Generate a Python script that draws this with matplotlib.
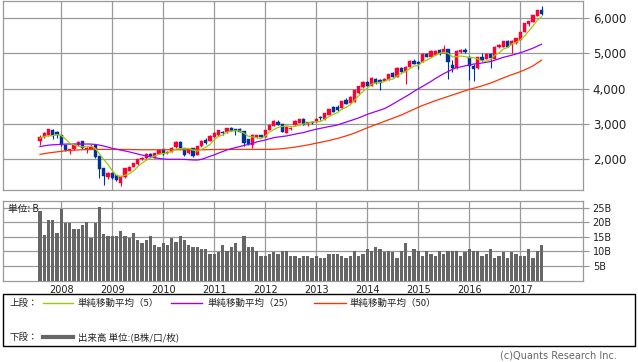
import matplotlib
matplotlib.use("Agg")
import matplotlib.pyplot as plt
from matplotlib.patches import Rectangle
from matplotlib.lines import Line2D
import numpy as np

# ---------------- data (monthly, Aug 2007 - Jun 2017) ----------------
years = ["2008", "2009", "2010", "2011", "2012", "2013", "2014", "2015", "2016", "2017"]
year_start_index = [5, 17, 29, 41, 53, 65, 77, 89, 101, 113]

opens = [2525, 2620, 2685, 2828, 2770, 2686, 2404, 2250, 2280, 2404,
         2525, 2280, 2300, 2404, 2093, 1746, 1510, 1605, 1556, 1322,
         1492, 1678, 1790, 1859, 2000, 2030, 2160, 2040, 2150, 2290,
         2190, 2215, 2340, 2500, 2310, 2170, 2310, 2121, 2375, 2545,
         2530, 2640, 2686, 2770, 2762, 2875, 2860, 2860, 2790, 2560,
         2400, 2640, 2680, 2640, 2830, 2940, 3060, 3000, 2750, 2850,
         2970, 3035, 3150, 3010, 3050, 3065, 3190, 3130, 3250, 3470,
         3480, 3440, 3680, 3600, 3630, 3865, 4035, 4175, 4080, 4260,
         4230, 4220, 4240, 4430, 4330, 4590, 4475, 4620, 4780, 4760,
         4760, 4975, 4900, 4960, 5090, 5000, 5110, 4660, 4570, 5020,
         5100, 4900, 4640, 4570, 4880, 4840, 4980, 4830, 5160, 5185,
         5330, 5230, 5280, 5370, 5600, 5820, 5890, 6050, 6210]
highs = [2686, 2760, 2870, 2850, 2790, 2700, 2420, 2300, 2420, 2520,
         2530, 2340, 2420, 2420, 2100, 1760, 1650, 1620, 1560, 1540,
         1760, 1800, 1900, 2020, 2070, 2180, 2175, 2180, 2280, 2300,
         2240, 2340, 2520, 2510, 2320, 2300, 2320, 2390, 2540, 2600,
         2690, 2770, 2840, 2800, 2890, 2900, 2870, 2880, 2800, 2580,
         2720, 2700, 2700, 2840, 2980, 3100, 3110, 3010, 2930, 2900,
         3100, 3140, 3180, 3060, 3070, 3160, 3230, 3320, 3420, 3500,
         3530, 3650, 3720, 3780, 3970, 4080, 4200, 4210, 4320, 4300,
         4260, 4290, 4420, 4460, 4600, 4620, 4640, 4800, 4820, 4780,
         4990, 5000, 5090, 5100, 5110, 5220, 5130, 4800, 5080, 5120,
         5140, 4920, 4700, 4890, 4990, 4990, 5000, 5200, 5250, 5340,
         5360, 5360, 5430, 5610, 5850, 5920, 6090, 6220, 6330]
lows = [2404, 2600, 2660, 2580, 2600, 2380, 2240, 2150, 2270, 2390,
        2300, 2180, 2290, 2050, 1460, 1270, 1440, 1440, 1400, 1246,
        1480, 1670, 1780, 1850, 1970, 2020, 2060, 2030, 2140, 2120,
        2150, 2200, 2330, 2290, 2100, 2150, 2060, 2110, 2360, 2430,
        2520, 2620, 2670, 2700, 2750, 2790, 2700, 2760, 2380, 2400,
        2330, 2600, 2620, 2630, 2820, 2930, 2960, 2760, 2740, 2820,
        2960, 3020, 2960, 2950, 3000, 3050, 3120, 3120, 3240, 3330,
        3360, 3430, 3560, 3590, 3620, 3850, 4020, 4060, 4070, 4130,
        3960, 4200, 4230, 4320, 4320, 4460, 4125, 4610, 4690, 4560,
        4750, 4880, 4890, 4950, 4960, 4990, 4280, 4470, 4560, 5000,
        5010, 4240, 4200, 4560, 4780, 4830, 4580, 4820, 5150, 5170,
        5170, 5010, 5270, 5360, 5590, 5760, 5880, 6040, 6090]
closes = [2620, 2735, 2855, 2660, 2690, 2404, 2263, 2280, 2404, 2500,
          2310, 2320, 2340, 2075, 1718, 1528, 1605, 1463, 1415, 1528,
          1746, 1790, 1887, 2008, 2030, 2160, 2090, 2170, 2263, 2140,
          2220, 2330, 2500, 2310, 2121, 2290, 2080, 2375, 2525, 2450,
          2670, 2750, 2828, 2740, 2875, 2800, 2800, 2780, 2450, 2430,
          2700, 2680, 2640, 2830, 2970, 3090, 2970, 2780, 2920, 2880,
          3090, 3130, 2970, 3040, 3020, 3140, 3160, 3300, 3410, 3345,
          3380, 3640, 3570, 3770, 3960, 4070, 4190, 4080, 4305, 4150,
          4150, 4280, 4410, 4330, 4590, 4475, 4620, 4780, 4700, 4680,
          4975, 4890, 5070, 5070, 4975, 5110, 4760, 4570, 5070, 5080,
          5020, 4640, 4550, 4880, 4800, 4980, 4850, 5185, 5230, 5330,
          5185, 5350, 5420, 5600, 5840, 5910, 6075, 6210, 6100]

ma5 = [2600, 2640, 2667, 2670, 2700, 2669, 2574, 2459, 2408, 2370,
       2351, 2363, 2375, 2309, 2153, 1996, 1853, 1678, 1546, 1508,
       1551, 1588, 1673, 1792, 1892, 1975, 2035, 2092, 2143, 2165,
       2177, 2225, 2291, 2300, 2296, 2310, 2260, 2235, 2278, 2344,
       2420, 2554, 2645, 2688, 2773, 2799, 2809, 2799, 2741, 2652,
       2632, 2608, 2580, 2656, 2764, 2842, 2900, 2928, 2946, 2928,
       2928, 2960, 2998, 3022, 3050, 3060, 3066, 3132, 3206, 3271,
       3319, 3415, 3469, 3541, 3664, 3802, 3912, 4014, 4121, 4159,
       4175, 4193, 4259, 4264, 4352, 4417, 4485, 4559, 4633, 4651,
       4751, 4805, 4863, 4937, 4996, 5023, 4997, 4897, 4897, 4918,
       4900, 4876, 4872, 4834, 4778, 4770, 4812, 4939, 5009, 5115,
       5156, 5256, 5303, 5377, 5479, 5624, 5769, 5927, 6027]
ma25 = [2360, 2380, 2400, 2410, 2415, 2425, 2430, 2432, 2432, 2432,
        2432, 2432, 2430, 2420, 2400, 2375, 2345, 2310, 2285, 2260,
        2235, 2210, 2180, 2150, 2120, 2095, 2070, 2045, 2025, 2010,
        2000, 2000, 2000, 2000, 1998, 1990, 1982, 1980, 2000, 2040,
        2085, 2125, 2175, 2220, 2263, 2300, 2330, 2360, 2390, 2420,
        2450, 2490, 2520, 2545, 2580, 2610, 2630, 2645, 2660, 2685,
        2710, 2735, 2755, 2790, 2820, 2850, 2875, 2900, 2925, 2945,
        2970, 3010, 3050, 3090, 3130, 3170, 3220, 3270, 3310, 3350,
        3390, 3430, 3490, 3560, 3630, 3700, 3770, 3840, 3920, 3990,
        4060, 4130, 4200, 4280, 4350, 4420, 4480, 4540, 4590, 4610,
        4640, 4665, 4690, 4705, 4720, 4740, 4760, 4800, 4840, 4880,
        4910, 4940, 4975, 5010, 5050, 5095, 5140, 5195, 5250]
ma50 = [2140, 2160, 2180, 2195, 2210, 2225, 2240, 2250, 2258, 2265,
        2270, 2275, 2278, 2280, 2280, 2280, 2280, 2280, 2280, 2280,
        2278, 2276, 2274, 2272, 2270, 2270, 2270, 2270, 2270, 2270,
        2270, 2270, 2270, 2270, 2270, 2270, 2270, 2270, 2270, 2272,
        2274, 2276, 2278, 2280, 2280, 2280, 2280, 2280, 2280, 2280,
        2280, 2280, 2280, 2280, 2282, 2285, 2290, 2300, 2315, 2330,
        2345, 2365, 2385, 2405, 2430, 2455, 2480, 2505, 2530, 2560,
        2590, 2625, 2660, 2700, 2740, 2790, 2840, 2890, 2935, 2980,
        3025, 3070, 3115, 3160, 3205, 3250, 3305, 3360, 3415, 3470,
        3520, 3565, 3610, 3655, 3695, 3735, 3775, 3815, 3855, 3895,
        3935, 3975, 4005, 4040, 4075, 4115, 4155, 4200, 4250, 4300,
        4345, 4390, 4430, 4475, 4525, 4580, 4640, 4720, 4800]
volume_b = [24.0, 15.6, 20.7, 21.0, 16.3, 24.8, 19.9, 19.7, 17.6, 17.6,
            19.3, 20.3, 14.6, 19.8, 25.2, 15.9, 15.5, 15.2, 15.5, 17.2,
            15.5, 14.6, 16.2, 14.1, 12.8, 14.1, 15.2, 12.1, 11.4, 12.8,
            12.1, 14.6, 13.4, 15.5, 14.1, 12.4, 11.4, 11.7, 11.0,
            11.0, 9.3, 9.3, 9.7, 12.1, 10.0, 11.7, 12.8, 9.7, 15.5,
            11.7, 11.4, 10.0, 8.6, 8.6, 9.3, 9.7, 9.0, 10.3, 10.0,
            8.6, 8.6, 7.9, 8.3, 8.6, 7.6, 8.3, 7.9, 7.6, 9.3,
            9.0, 9.3, 8.3, 7.6, 8.3, 10.3, 8.6, 9.3, 10.7,
            10.0, 11.7, 11.0, 9.7, 10.3, 9.7, 7.9, 10.0, 12.8, 8.3,
            10.7, 10.0, 8.6, 10.3, 9.0, 8.6, 10.3, 9.3, 10.3, 10.3,
            10.0, 8.3, 9.7, 10.7, 10.3, 10.0, 8.6, 9.0, 11.0, 7.9,
            8.6, 9.7, 7.9, 9.7, 9.3, 8.3, 8.6, 11.0, 7.6, 10.0, 12.4]

price_ticks = [2000, 3000, 4000, 5000, 6000]
price_labels = ["2,000", "3,000", "4,000", "5,000", "6,000"]
vol_ticks = [5, 10, 15, 20, 25]
vol_labels = ["5B", "10B", "15B", "20B", "25B"]

# ---------------- style ----------------
UP = "#FF0033"
DOWN = "#003399"
C5 = "#99CC00"
C25 = "#9900FF"
C50 = "#FF3300"
GRID = "#999999"
VOL = "#666666"
CJK = ["Noto Sans CJK JP", "DejaVu Sans"]

W, H = 638, 362
fig = plt.figure(figsize=(W / 100, H / 100), dpi=100)

def fx(px):
    return px / W

def fy(py):
    return 1 - py / H

x = np.arange(len(closes))
xlim = (-8.7, 127.76)

# price axes
ax = fig.add_axes([fx(3), fy(190), fx(580), 189.5 / H])
ax.set_xlim(*xlim)
ax.set_ylim(1133, 6486)
for s in ax.spines.values():
    s.set_color(GRID)
    s.set_linewidth(0.9)
ax.set_xticks(year_start_index)
ax.set_xticklabels([])
ax.tick_params(axis="x", length=0)
ax.yaxis.tick_right()
ax.set_yticks(price_ticks)
ax.set_yticklabels(price_labels, fontsize=8.5, color="#222222")
ax.tick_params(axis="y", direction="out", length=4, color=GRID, width=0.9, pad=3)
ax.grid(True, color=GRID, linewidth=0.9)
ax.set_axisbelow(True)

o = np.array(opens, float)
c = np.array(closes, float)
hi = np.array(highs, float)
lo = np.array(lows, float)
colors = np.where(c >= o, UP, DOWN)
ax.vlines(x, lo, hi, colors=colors, linewidth=0.8, zorder=3)
body_bottom = np.minimum(o, c)
body_h = np.maximum(np.abs(c - o), 25)
ax.bar(x, body_h, bottom=body_bottom, width=0.72, color=colors, edgecolor=colors,
       linewidth=0.3, zorder=4)

ax.plot(x, ma50, color=C50, linewidth=0.9, zorder=5)
ax.plot(x, ma25, color=C25, linewidth=0.9, zorder=5)
ax.plot(x, ma5, color=C5, linewidth=0.9, zorder=6)

# volume axes
av = fig.add_axes([fx(3), fy(280.5), fx(580), 79.5 / H])
av.set_xlim(*xlim)
av.set_ylim(0, 27.4)
for s in av.spines.values():
    s.set_color(GRID)
    s.set_linewidth(0.9)
av.bar(x, volume_b, width=0.72, color=VOL, zorder=3)
av.yaxis.tick_right()
av.set_yticks(vol_ticks)
av.set_yticklabels(vol_labels, fontsize=7, color="#222222")
av.tick_params(axis="y", direction="out", length=4, color=GRID, width=0.9, pad=3)
av.set_xticks(year_start_index)
av.set_xticklabels(years, fontsize=7, color="#222222")
av.tick_params(axis="x", length=0, pad=3)
av.grid(True, color=GRID, linewidth=0.9)
av.set_axisbelow(True)
av.text(0.009, 0.9, "単位: B", transform=av.transAxes, fontsize=7,
        family=CJK, va="center", ha="left", color="#222222", zorder=10)

# legend box
fig.patches.append(Rectangle((fx(3), fy(346)), fx(632), 52 / H, transform=fig.transFigure,
                             fill=False, edgecolor="black", linewidth=1.0))
row1 = fy(303)
row2 = fy(337)
ts = dict(fontsize=6.8, family=CJK, va="center", ha="left", color="#222222")
fig.text(fx(10), row1, "上段：", **ts)
fig.lines.append(Line2D([fx(43), fx(73)], [row1, row1], transform=fig.transFigure, color=C5, linewidth=1.0))
fig.text(fx(78), row1, "単純移動平均（5）", **ts)
fig.lines.append(Line2D([fx(171), fx(202)], [row1, row1], transform=fig.transFigure, color=C25, linewidth=1.0))
fig.text(fx(207), row1, "単純移動平均（25）", **ts)
fig.lines.append(Line2D([fx(314), fx(346)], [row1, row1], transform=fig.transFigure, color=C50, linewidth=1.0))
fig.text(fx(350), row1, "単純移動平均（50）", **ts)
fig.text(fx(10), row2, "下段：", **ts)
fig.lines.append(Line2D([fx(43), fx(73)], [row2, row2], transform=fig.transFigure, color=VOL, linewidth=3.0))
fig.text(fx(78), row2, "出来高 単位:(B株/口/枚)", **ts)

fig.text(fx(617), fy(356), "(c)Quants Research Inc.", fontsize=7, color="#666666",
         ha="right", va="center")

fig.savefig("out.png", dpi=100)
